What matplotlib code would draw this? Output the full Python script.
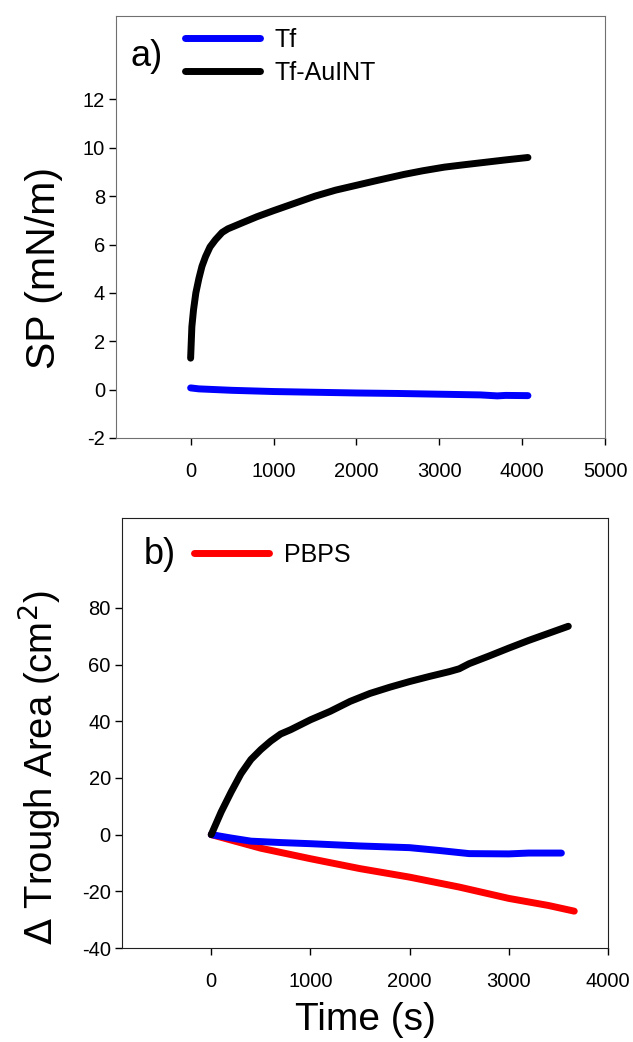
import matplotlib.pyplot as plt
from matplotlib.lines import Line2D

plt.rcParams['font.family'] = ['Liberation Sans', 'DejaVu Sans']
plt.rcParams['axes.unicode_minus'] = False

# panel a: surface pressure vs time
sp_tf_t = [0, 100, 300, 500, 800, 1000, 1500, 2000, 2500, 3000, 3500, 3700, 3800, 4070]
sp_tf = [0.07, 0.03, 0.0, -0.03, -0.06, -0.08, -0.11, -0.14, -0.16, -0.19, -0.22, -0.26, -0.24, -0.25]

sp_au_t = [0, 15, 35, 63, 100, 137, 180, 234, 300, 380, 450, 520, 624, 800, 1000, 1250,
           1500, 1750, 2000, 2250, 2575, 2800, 3060, 3300, 3550, 3800, 4070]
sp_au = [1.3, 2.6, 3.3, 4.0, 4.6, 5.1, 5.5, 5.9, 6.2, 6.5, 6.65, 6.75, 6.9, 7.15, 7.4, 7.7,
         8.0, 8.25, 8.45, 8.65, 8.9, 9.05, 9.2, 9.3, 9.4, 9.5, 9.6]

# panel b: change in trough area vs time
ta_t_black = [0, 100, 200, 300, 400, 500, 600, 700, 800, 1000, 1200, 1400, 1600, 1800,
              2000, 2200, 2400, 2500, 2600, 2800, 3000, 3200, 3400, 3600]
ta_black = [0, 8, 15, 21.5, 26.5, 30, 33, 35.5, 37, 40.5, 43.5, 47, 49.8, 52, 54, 55.8,
            57.5, 58.5, 60.3, 63, 65.8, 68.5, 71, 73.5]

ta_t_blue = [0, 200, 400, 700, 1000, 1500, 2000, 2300, 2600, 3000, 3200, 3530]
ta_blue = [0, -1.2, -2.3, -2.8, -3.2, -4.0, -4.6, -5.6, -6.7, -6.8, -6.5, -6.5]

ta_t_red = [0, 500, 1000, 1500, 2000, 2500, 3000, 3400, 3660]
ta_red = [0, -4.8, -8.5, -12, -15, -18.5, -22.5, -25, -27]

LW = 5.0

fig = plt.figure(figsize=(6.33, 10.42), dpi=100)

ax1 = fig.add_axes([0.1833, 0.5797, 0.7725, 0.4049])
ax1.plot(sp_tf_t, sp_tf, color='#0000ff', lw=LW, solid_capstyle='round')
ax1.plot(sp_au_t, sp_au, color='black', lw=LW, solid_capstyle='round')
ax1.set_xlim(-900, 5000)
ax1.set_ylim(-2, 15.45)
ax1.set_xticks([0, 1000, 2000, 3000, 4000, 5000])
ax1.set_yticks([-2, 0, 2, 4, 6, 8, 10, 12])
ax1.set_ylabel('SP (mN/m)', fontsize=29.5)
ax1.yaxis.set_label_coords(-0.109, 0.403)
for s in ax1.spines.values():
    s.set_color('#707070')
ax1.text(0.03, 0.905, 'a)', transform=ax1.transAxes, fontsize=26, va='center')
h1 = [Line2D([], [], color='#0000ff', lw=LW, solid_capstyle='round'),
      Line2D([], [], color='black', lw=LW, solid_capstyle='round')]
ax1.legend(h1, ['Tf', 'Tf-AuINT'], loc='upper left', bbox_to_anchor=(0.12, 0.995),
           frameon=False, fontsize=18, handlelength=3.0, handletextpad=0.6,
           labelspacing=0.35, borderaxespad=0)

ax2 = fig.add_axes([0.1927, 0.0902, 0.7678, 0.4127])
ax2.plot(ta_t_red, ta_red, color='#ff0000', lw=LW, solid_capstyle='round')
ax2.plot(ta_t_blue, ta_blue, color='#0000ff', lw=LW, solid_capstyle='round')
ax2.plot(ta_t_black, ta_black, color='black', lw=LW, solid_capstyle='round')
ax2.set_xlim(-900, 4000)
ax2.set_ylim(-40, 111.7)
ax2.set_xticks([0, 1000, 2000, 3000, 4000])
ax2.set_yticks([-40, -20, 0, 20, 40, 60, 80])
ax2.set_ylabel('$\\Delta$ Trough Area (cm$^2$)', fontsize=27.5)
ax2.yaxis.set_label_coords(-0.12, 0.419)
ax2.set_xlabel('Time (s)', fontsize=28, labelpad=8)
for s in ax2.spines.values():
    s.set_color('#202020')
ax2.text(0.045, 0.915, 'b)', transform=ax2.transAxes, fontsize=26, va='center')
h2 = [Line2D([], [], color='#ff0000', lw=LW, solid_capstyle='round')]
ax2.legend(h2, ['PBPS'], loc='upper left', bbox_to_anchor=(0.128, 0.965),
           frameon=False, fontsize=18, handlelength=3.0, handletextpad=0.6,
           borderaxespad=0)

for ax in (ax1, ax2):
    ax.tick_params(direction='out', length=5, width=1, labelsize=14.5,
                   top=False, right=False, pad=3)
    ax.tick_params(axis='x', pad=12)

fig.savefig('out.png', dpi=100)
